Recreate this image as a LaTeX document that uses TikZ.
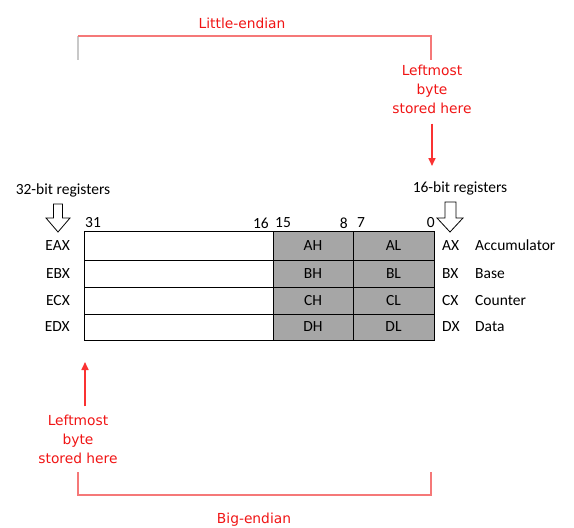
\documentclass[tikz,border=0pt]{standalone}
\usepackage{fontspec}
\setmainfont{Carlito}
\newfontfamily\redfont{DejaVu Sans}
\usetikzlibrary{arrows.meta}
\definecolor{regray}{RGB}{166,166,166}
\definecolor{txtred}{RGB}{240,20,20}
\definecolor{brred}{RGB}{245,120,120}
\definecolor{arred}{RGB}{250,50,50}
\definecolor{lgray}{RGB}{200,200,200}
\begin{document}
\begin{tikzpicture}[x=1pt,y=-1pt,
  lbl/.style={inner sep=0pt,font=\fontsize{15.5}{17}\selectfont},
  rtxt/.style={inner sep=0pt,align=center,text=txtred,font=\redfont\fontsize{13.8}{19}\selectfont},
  cell/.style={draw=black,line width=0.8pt},
  brk/.style={draw=brred,line width=1.2pt},
  rarr/.style={draw=arred,line width=1.6pt,-{Triangle[length=8pt,width=7pt]}},
  hollow/.style={draw=black,fill=white,line width=0.8pt,line join=miter}]
\useasboundingbox (0,0) rectangle (574,528);

% register table
\path[cell,fill=white] (84,231) rectangle (273,340);
\path[cell,fill=regray] (273,231) rectangle (353,340);
\path[cell,fill=regray] (353,231) rectangle (434,340);
\draw[line width=0.8pt] (84,260) -- (434,260) (84,287) -- (434,287) (84,314) -- (434,314);

% byte names
\node[lbl] (ah) at (313,245.5) {AH};
\node[lbl] (al) at (393.5,245.5) {AL};
\node[lbl] (bh) at (313,273.5) {BH};
\node[lbl] (bl) at (393.5,273.5) {BL};
\node[lbl] (ch) at (313,300.5) {CH};
\node[lbl] (cl) at (393.5,300.5) {CL};
\node[lbl] (dh) at (313,327) {DH};
\node[lbl] (dl) at (393.5,327) {DL};

% 32-bit names
\node[lbl,anchor=east] (eax) at (70,245.5) {EAX};
\node[lbl,anchor=east] (ebx) at (70,273.5) {EBX};
\node[lbl,anchor=east] (ecx) at (70,300.5) {ECX};
\node[lbl,anchor=east] (edx) at (70,327) {EDX};

% 16-bit names
\node[lbl,anchor=west] (ax) at (442,245.5) {AX};
\node[lbl,anchor=west] (bx) at (442,273.5) {BX};
\node[lbl,anchor=west] (cx) at (442,300.5) {CX};
\node[lbl,anchor=west] (dx) at (442,327) {DX};
\node[lbl,anchor=west] (acc) at (475,245.5) {Accumulator};
\node[lbl,anchor=west] (base) at (475,273.5) {Base};
\node[lbl,anchor=west] (cnt) at (475,300.5) {Counter};
\node[lbl,anchor=west] (data) at (475,327) {Data};

% bit numbers
\node[lbl,anchor=west] (b31) at (85,223) {31};
\node[lbl,anchor=east] (b16) at (269,223) {16};
\node[lbl,anchor=west] (b15) at (275,223) {15};
\node[lbl,anchor=east] (b8) at (348,223) {8};
\node[lbl,anchor=west] (b7) at (357,223) {7};
\node[lbl,anchor=east] (b0) at (435,223) {0};

% register captions and hollow arrows
\node[lbl] (r32) at (63,190) {32-bit registers};
\node[lbl] (r16) at (460,188.5) {16-bit registers};
\path[hollow] (53.5,204) -- (62.5,204) -- (62.5,218) -- (70,218) -- (58,232) -- (46,218) -- (53.5,218) -- cycle;
\path[hollow] (445,202) -- (456,202) -- (456,218) -- (463,218) -- (450,232) -- (437,218) -- (445,218) -- cycle;

% little-endian
\node[rtxt] (lit) at (242,23) {Little-endian};
\draw[lgray,line width=1.2pt] (78,36) -- (78,60);
\draw[brk] (78,36) -- (431,36) -- (431,60);
\node[rtxt] (lel) at (432,89) {Leftmost\\byte\\stored here};
\coordinate (let) at (432,166);
\draw[rarr] (lel.south -| let) ++(0,10) -- (let);

% big-endian
\node[rtxt] (bel) at (78,439) {Leftmost\\byte\\stored here};
\coordinate (bet) at (85,362);
\draw[rarr] (bet |- bel.north) ++(0,-8) -- (bet);
\draw[brk] (78,472) -- (78,495) -- (431,495) -- (431,472);
\node[rtxt] (big) at (254,520) {Big-endian};
\end{tikzpicture}
\end{document}
